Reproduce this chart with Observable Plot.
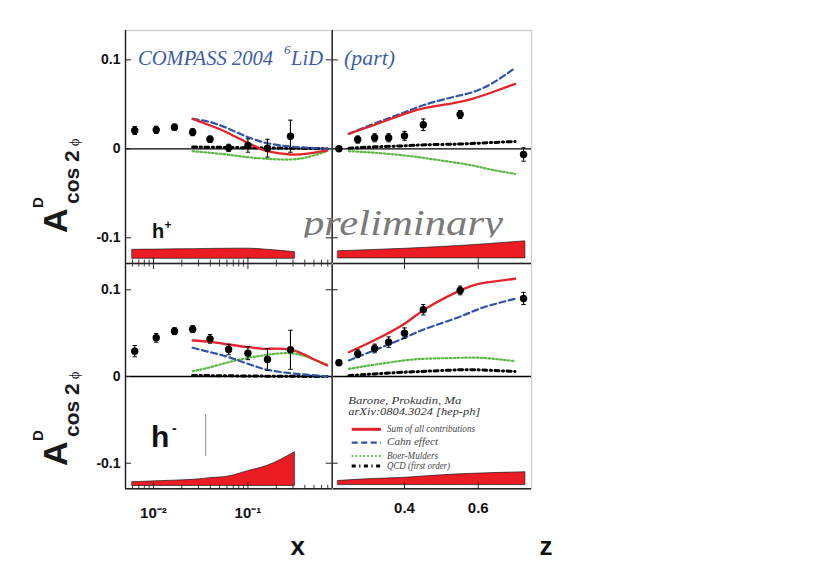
<!DOCTYPE html>
<html><head><meta charset="utf-8">
<script src="https://cdn.jsdelivr.net/npm/d3@7"></script>
<script src="https://cdn.jsdelivr.net/npm/@observablehq/plot@0.6"></script>
<style>
body{margin:0;background:#fff;}
#wrap{position:relative;width:830px;height:587px;overflow:hidden;background:#fff;}
</style></head><body><div id="wrap"></div>
<script>
// ---------- data ----------
// COMPASS 2004 6LiD points, x-binned
const xBins = [0.00634, 0.0107, 0.0167, 0.026, 0.0397, 0.0625, 0.100, 0.161, 0.282];
const hPlusX = [0.0206, 0.0213, 0.0243, 0.0187, 0.0108, 0.0011, 0.0037, 0.0007, 0.0142];
const hPlusXErr = [0.0045, 0.004, 0.0035, 0.004, 0.0035, 0.004, 0.0075, 0.010, 0.018];
const hMinusX = [0.0292, 0.0446, 0.0523, 0.0546, 0.0434, 0.0311, 0.0269, 0.0196, 0.0308];
const hMinusXErr = [0.0065, 0.005, 0.004, 0.004, 0.005, 0.006, 0.0075, 0.0125, 0.0225];
// z-binned
const zBins = [0.222, 0.273, 0.319, 0.357, 0.400, 0.451, 0.551, 0.723];
const hPlusZ = [0.0, 0.0104, 0.0124, 0.0124, 0.0146, 0.027, 0.0385, -0.0064];
const hPlusZErr = [0.002, 0.004, 0.0045, 0.0045, 0.005, 0.0065, 0.0045, 0.0075];
const hMinusZ = [0.0158, 0.0262, 0.0323, 0.0396, 0.050, 0.0769, 0.0992, 0.090];
const hMinusZErr = [0.003, 0.0045, 0.005, 0.006, 0.006, 0.006, 0.005, 0.007];

// model curves (Barone, Prokudin, Ma)
const curveX = [0.026, 0.04, 0.0625, 0.1, 0.126, 0.161, 0.28, 0.45, 0.69];
const hPlusSumX  = [0.0337, 0.0262, 0.0176, 0.0064, 0.0018, -0.0027, -0.0064, -0.005, -0.002];
const hPlusCahnX = [0.0337, 0.0300, 0.0225, 0.0131, 0.0095, 0.0063, 0.0026, 0.0011, 0.0];
const hPlusBMX   = [-0.0027, -0.0045, -0.0067, -0.0094, -0.0104, -0.0112, -0.012, -0.0087, -0.0027];
const hPlusQCDX  = [0.002, 0.0018, 0.0015, 0.0012, 0.0011, 0.001, 0.0007, 0.0004, 0.0002];
const hMinusSumX  = [0.0415, 0.040, 0.0369, 0.0338, 0.0327, 0.0319, 0.0311, 0.0223, 0.0127];
const hMinusCahnX = [0.0331, 0.028, 0.0223, 0.0146, 0.011, 0.0077, 0.0038, 0.0019, 0.0];
const hMinusBMX   = [0.0061, 0.0107, 0.0165, 0.0215, 0.0233, 0.025, 0.0269, 0.0215, 0.0138];
const hMinusQCDX  = [0.0012, 0.001, 0.0008, 0.0006, 0.0005, 0.0004, 0.0002, 0.0001, 0.0];

const curveZp = [0.249, 0.321, 0.40, 0.457, 0.53, 0.584, 0.638, 0.70];
const hPlusSumZ  = [0.0169, 0.0273, 0.0393, 0.046, 0.0512, 0.0562, 0.0636, 0.073];
const hPlusCahnZ = [0.0169, 0.0288, 0.0411, 0.0498, 0.058, 0.0636, 0.0737, 0.091];
const hPlusBMZ   = [-0.0027, -0.0045, -0.0075, -0.0105, -0.015, -0.0187, -0.0236, -0.0281];
const hPlusQCDZ  = [0.0007, 0.0022, 0.0034, 0.0045, 0.0052, 0.006, 0.0071, 0.0082];
const curveZm = [0.249, 0.321, 0.40, 0.457, 0.547, 0.611, 0.70];
const hMinusSumZ  = [0.028, 0.0423, 0.0608, 0.078, 0.0984, 0.1076, 0.1127];
const hMinusCahnZ = [0.0185, 0.0308, 0.0446, 0.055, 0.0684, 0.0792, 0.0896];
const hMinusBMZ   = [0.0088, 0.0138, 0.0185, 0.0205, 0.0215, 0.0215, 0.0177];
const hMinusQCDZ  = [0.001, 0.003, 0.005, 0.006, 0.0077, 0.0075, 0.0058];

// systematic bands
const bandXgrid = [0.006, 0.0107, 0.0167, 0.026, 0.04, 0.0625, 0.1, 0.161, 0.314];
const hPlusBandX  = [-0.1135, -0.1133, -0.113, -0.1128, -0.1125, -0.1123, -0.1122, -0.1135, -0.1162];
const hPlusBandXBase = -0.1236;
const hMinusBandX = [-0.1219, -0.1209, -0.1201, -0.1192, -0.1172, -0.1153, -0.1092, -0.103, -0.0873];
const hMinusBandXBase = -0.1262;
const bandZgrid = [0.22, 0.30, 0.40, 0.47, 0.55, 0.63, 0.728];
const hPlusBandZ  = [-0.1152, -0.114, -0.1124, -0.111, -0.1092, -0.107, -0.104];
const hPlusBandZBase = -0.1232;
const hMinusBandZ = [-0.1205, -0.1185, -0.1168, -0.1148, -0.1128, -0.1115, -0.1104];
const hMinusBandZBase = -0.1252;

// ticks
const yTickValues = [-0.1, 0, 0.1];
const xMajorTicks = [0.01, 0.1];
const xMinorTicks = [0.006, 0.007, 0.008, 0.009, 0.02, 0.03, 0.04, 0.05, 0.06, 0.07, 0.08, 0.09, 0.2, 0.3, 0.4, 0.5, 0.6, 0.7];
const xTickLabels = {0.01: "10⁻²", 0.1: "10⁻¹"};
const zMajorTicks = [0.4, 0.6];

// ---------- layout ----------
const W = 830, H = 587;
const colX = [125, 331.7, 531];
const rowY = [30, 263, 488.3];
const xDomain = [0.00506, 0.78];
const zDomain = [0.2038, 0.7446];
const yDomainTop = [-0.1289, 0.133];
const yDomainBot = [-0.1295, 0.1303];

const RED = "#e4232b", BLUE = "#3153a5", GREEN = "#5cb845", BAND = "#ec1c24";
const SANS = "'Liberation Sans', Arial, Helvetica, sans-serif";
const SERIF = "'Liberation Serif', 'Times New Roman', serif";

const rows = (xs, ys) => xs.map((x, i) => ({x, y: ys[i]}));
const capSymbol = {draw(ctx, size) { const r = Math.sqrt(size / Math.PI); ctx.moveTo(-r, 0); ctx.lineTo(r, 0); }};
const yFmt = d => d === 0 ? "0" : (d < 0 ? "-" : "") + Math.abs(d).toFixed(1);

function panel(o) {
  const [L, R] = [colX[o.col], colX[o.col + 1]];
  const [T, B] = [rowY[o.row], rowY[o.row + 1]];
  const fw = R - L, fh = B - T;
  const pts = o.bins.map((x, i) => ({x, y: o.vals[i], e: o.errs[i]}));
  const band = o.bandGrid.map((x, i) => ({x, lo: o.bandBase, hi: o.band[i]}));
  const isLeft = o.col === 0, isBottom = o.row === 1;
  const majors = isLeft ? xMajorTicks : zMajorTicks;
  const marks = [
    Plot.frame({stroke: "#cfcfcf", strokeWidth: 1.4}),
    Plot.areaY(band, {x: "x", y1: "lo", y2: "hi", fill: BAND, stroke: "#1a1a1a", strokeWidth: 0.7, curve: "monotone-x"}),
    Plot.ruleY([0], {stroke: "#000", strokeWidth: 1.3}),
    Plot.line(rows(o.cx, o.qcd), {x: "x", y: "y", stroke: "#000", strokeWidth: 3, strokeDasharray: "4,3.5,1.2,3.5", curve: "natural"}),
    Plot.line(rows(o.cx, o.bm), {x: "x", y: "y", stroke: GREEN, strokeWidth: 2.2, strokeDasharray: "1.6,2.3", curve: "natural"}),
    Plot.line(rows(o.cx, o.cahn), {x: "x", y: "y", stroke: BLUE, strokeWidth: 2.2, strokeDasharray: "6,3.5", curve: "natural"}),
    Plot.line(rows(o.cx, o.sum), {x: "x", y: "y", stroke: RED, strokeWidth: 2.3, curve: "natural"}),
    Plot.ruleX(pts, {x: "x", y1: d => d.y - d.e, y2: d => d.y + d.e, stroke: "#000", strokeWidth: 1.1}),
    Plot.dot(pts, {x: "x", y: d => d.y + d.e, symbol: capSymbol, r: 2.2, stroke: "#000", strokeWidth: 1}),
    Plot.dot(pts, {x: "x", y: d => d.y - d.e, symbol: capSymbol, r: 2.2, stroke: "#000", strokeWidth: 1}),
    Plot.dot(pts, {x: "x", y: "y", r: 3.7, fill: "#000", stroke: "none"}),
    // bottom edge (dark) + ticks pointing up
    Plot.ruleY([o.ydom[0]], {stroke: "#222", strokeWidth: 1.4}),
    Plot.tickX(majors, {insetTop: fh - 6, stroke: "#222", strokeWidth: 1}),
  ];
  if (isLeft) {
    marks.push(
      Plot.tickX(xMinorTicks, {insetTop: fh - 3.5, stroke: "#222", strokeWidth: 0.9}),
      Plot.ruleX([o.xdom[0]], {stroke: "#222", strokeWidth: 1.4}),
      Plot.ruleX([o.xdom[1]], {stroke: "#222", strokeWidth: 1.4}),
      Plot.tickY(yTickValues, {insetRight: fw - 6, stroke: "#222", strokeWidth: 1}),
      Plot.tickY([-0.1, 0.1], {insetLeft: fw - 6, stroke: "#222", strokeWidth: 1}),
      Plot.axisY(yTickValues, {tickSize: 0, tickPadding: 5, tickFormat: yFmt, fontSize: 14, fontWeight: "bold", label: null})
    );
  } else {
    marks.push(Plot.tickY([-0.1, 0.1], {insetRight: fw - 6, stroke: "#222", strokeWidth: 1}));
  }
  if (isBottom) {
    marks.push(Plot.tickX(majors, {insetBottom: fh - 6, stroke: "#222", strokeWidth: 1}));
    if (isLeft) {
      marks.push(
        Plot.tickX(xMinorTicks, {insetBottom: fh - 3.5, stroke: "#222", strokeWidth: 0.9}),
        Plot.axisX(xMajorTicks, {tickSize: 0, tickPadding: 19, tickFormat: d => xTickLabels[d], fontSize: 15, fontWeight: "bold", label: null})
      );
    } else {
      marks.push(Plot.axisX(zMajorTicks, {tickSize: 0, tickPadding: 14, tickFormat: d => d.toFixed(1), fontSize: 15, fontWeight: "bold", label: null}));
    }
  }
  return Plot.plot({
    width: W, height: H,
    marginLeft: L, marginRight: W - R, marginTop: T, marginBottom: H - B,
    x: {type: isLeft ? "log" : "linear", domain: o.xdom, axis: null, label: null},
    y: {domain: o.ydom, axis: null, label: null},
    style: {position: "absolute", left: "0px", top: "0px", background: "transparent", fontFamily: SANS, fontWeight: "bold", overflow: "visible", color: "#111"},
    marks
  });
}

const wrap = document.getElementById("wrap");
const panels = [
  {col: 1, row: 1, xdom: zDomain, ydom: yDomainBot, bins: zBins, vals: hMinusZ, errs: hMinusZErr,
   cx: curveZm, sum: hMinusSumZ, cahn: hMinusCahnZ, bm: hMinusBMZ, qcd: hMinusQCDZ,
   bandGrid: bandZgrid, band: hMinusBandZ, bandBase: hMinusBandZBase},
  {col: 1, row: 0, xdom: zDomain, ydom: yDomainTop, bins: zBins, vals: hPlusZ, errs: hPlusZErr,
   cx: curveZp, sum: hPlusSumZ, cahn: hPlusCahnZ, bm: hPlusBMZ, qcd: hPlusQCDZ,
   bandGrid: bandZgrid, band: hPlusBandZ, bandBase: hPlusBandZBase},
  {col: 0, row: 1, xdom: xDomain, ydom: yDomainBot, bins: xBins, vals: hMinusX, errs: hMinusXErr,
   cx: curveX, sum: hMinusSumX, cahn: hMinusCahnX, bm: hMinusBMX, qcd: hMinusQCDX,
   bandGrid: bandXgrid, band: hMinusBandX, bandBase: hMinusBandXBase},
  {col: 0, row: 0, xdom: xDomain, ydom: yDomainTop, bins: xBins, vals: hPlusX, errs: hPlusXErr,
   cx: curveX, sum: hPlusSumX, cahn: hPlusCahnX, bm: hPlusBMX, qcd: hPlusQCDX,
   bandGrid: bandXgrid, band: hPlusBandX, bandBase: hPlusBandXBase}
];
panels.forEach(p => wrap.appendChild(panel(p)));

// ---------- annotations ----------
const ov = d3.select(wrap).append("svg").attr("width", W).attr("height", H)
  .style("position", "absolute").style("left", "0px").style("top", "0px").style("overflow", "visible");
function txt(s, x, y, o = {}) {
  const t = ov.append("text").attr("x", x).attr("y", y).text(s)
    .attr("font-family", o.family || SANS).attr("font-size", o.size || 12)
    .attr("fill", o.fill || "#111");
  if (o.italic) t.attr("font-style", "italic");
  if (o.bold) t.attr("font-weight", "bold");
  if (o.anchor) t.attr("text-anchor", o.anchor);
  if (o.len) t.attr("textLength", o.len).attr("lengthAdjust", "spacingAndGlyphs");
  return t;
}
// title
const COMPASS_BLUE = "#3c5cab";
txt("COMPASS 2004", 138, 65, {family: SERIF, size: 20, italic: true, fill: COMPASS_BLUE, len: 135});
txt("6", 284, 54, {family: SERIF, size: 13, italic: true, fill: COMPASS_BLUE});
txt("LiD", 291, 65, {family: SERIF, size: 20, italic: true, fill: COMPASS_BLUE, len: 32});
txt("(part)", 344, 65, {family: SERIF, size: 20, italic: true, fill: COMPASS_BLUE, len: 51});
// preliminary (clipped at its descenders like in the original)
ov.append("clipPath").attr("id", "pclip").append("rect").attr("x", 0).attr("y", 0).attr("width", W).attr("height", 237.5);
txt("preliminary", 303, 235, {family: SERIF, size: 36, italic: true, fill: "#7a7a7a", len: 200}).attr("clip-path", "url(#pclip)");
// hadron labels
txt("h", 152, 238, {size: 20, bold: true});
txt("+", 164.5, 229, {size: 12, bold: true});
txt("h", 151, 447, {size: 30, bold: true});
txt("-", 172, 433, {size: 14, bold: true});
ov.append("line").attr("x1", 205.7).attr("x2", 205.7).attr("y1", 414).attr("y2", 456).attr("stroke", "#8a8a8a").attr("stroke-width", 1);
// axis titles
txt("x", 297.7, 555, {size: 26, bold: true, anchor: "middle"});
txt("z", 546, 555, {size: 26, bold: true, anchor: "middle"});
function yTitle(x, y) {
  const t = ov.append("text").attr("transform", `translate(${x},${y}) rotate(-90)`)
    .attr("font-family", SANS).attr("font-weight", "bold").attr("fill", "#1a1a1a");
  t.append("tspan").attr("font-size", 34).text("A");
  t.append("tspan").attr("font-size", 15).attr("x", 25).attr("y", -24).text("D");
  t.append("tspan").attr("font-size", 21).attr("x", 29).attr("y", 12).text("cos 2");
  t.append("tspan").attr("font-size", 15).attr("font-weight", "normal").attr("font-family", SERIF).attr("dx", 4).attr("y", 12).text("ϕ");
}
yTitle(67, 233);
yTitle(67, 466);
// legend
txt("Barone, Prokudin, Ma", 348.3, 403.5, {family: SERIF, size: 11, italic: true, fill: "#333", len: 113});
txt("arXiv:0804.3024 [hep-ph]", 348.3, 415, {family: SERIF, size: 11, italic: true, fill: "#333", len: 132});
const leg = [
  {label: "Sum of all contributions", y: 429.3, stroke: RED, w: 3, dash: null, len: 88},
  {label: "Cahn effect", y: 442.7, stroke: BLUE, w: 2.2, dash: "6,3.5", len: 51},
  {label: "Boer-Mulders", y: 456, stroke: GREEN, w: 2.2, dash: "1.6,2.3", len: 51},
  {label: "QCD (first order)", y: 466, stroke: "#000", w: 3, dash: "4,3.5,1.2,3.5", len: 63}
];
leg.forEach(d => {
  const l = ov.append("line").attr("x1", 351.7).attr("x2", 381).attr("y1", d.y).attr("y2", d.y)
    .attr("stroke", d.stroke).attr("stroke-width", d.w);
  if (d.dash) l.attr("stroke-dasharray", d.dash);
  txt(d.label, 387, d.y + 2.5, {family: SERIF, size: 9.5, italic: true, fill: "#444", len: d.len});
});
</script></body></html>
